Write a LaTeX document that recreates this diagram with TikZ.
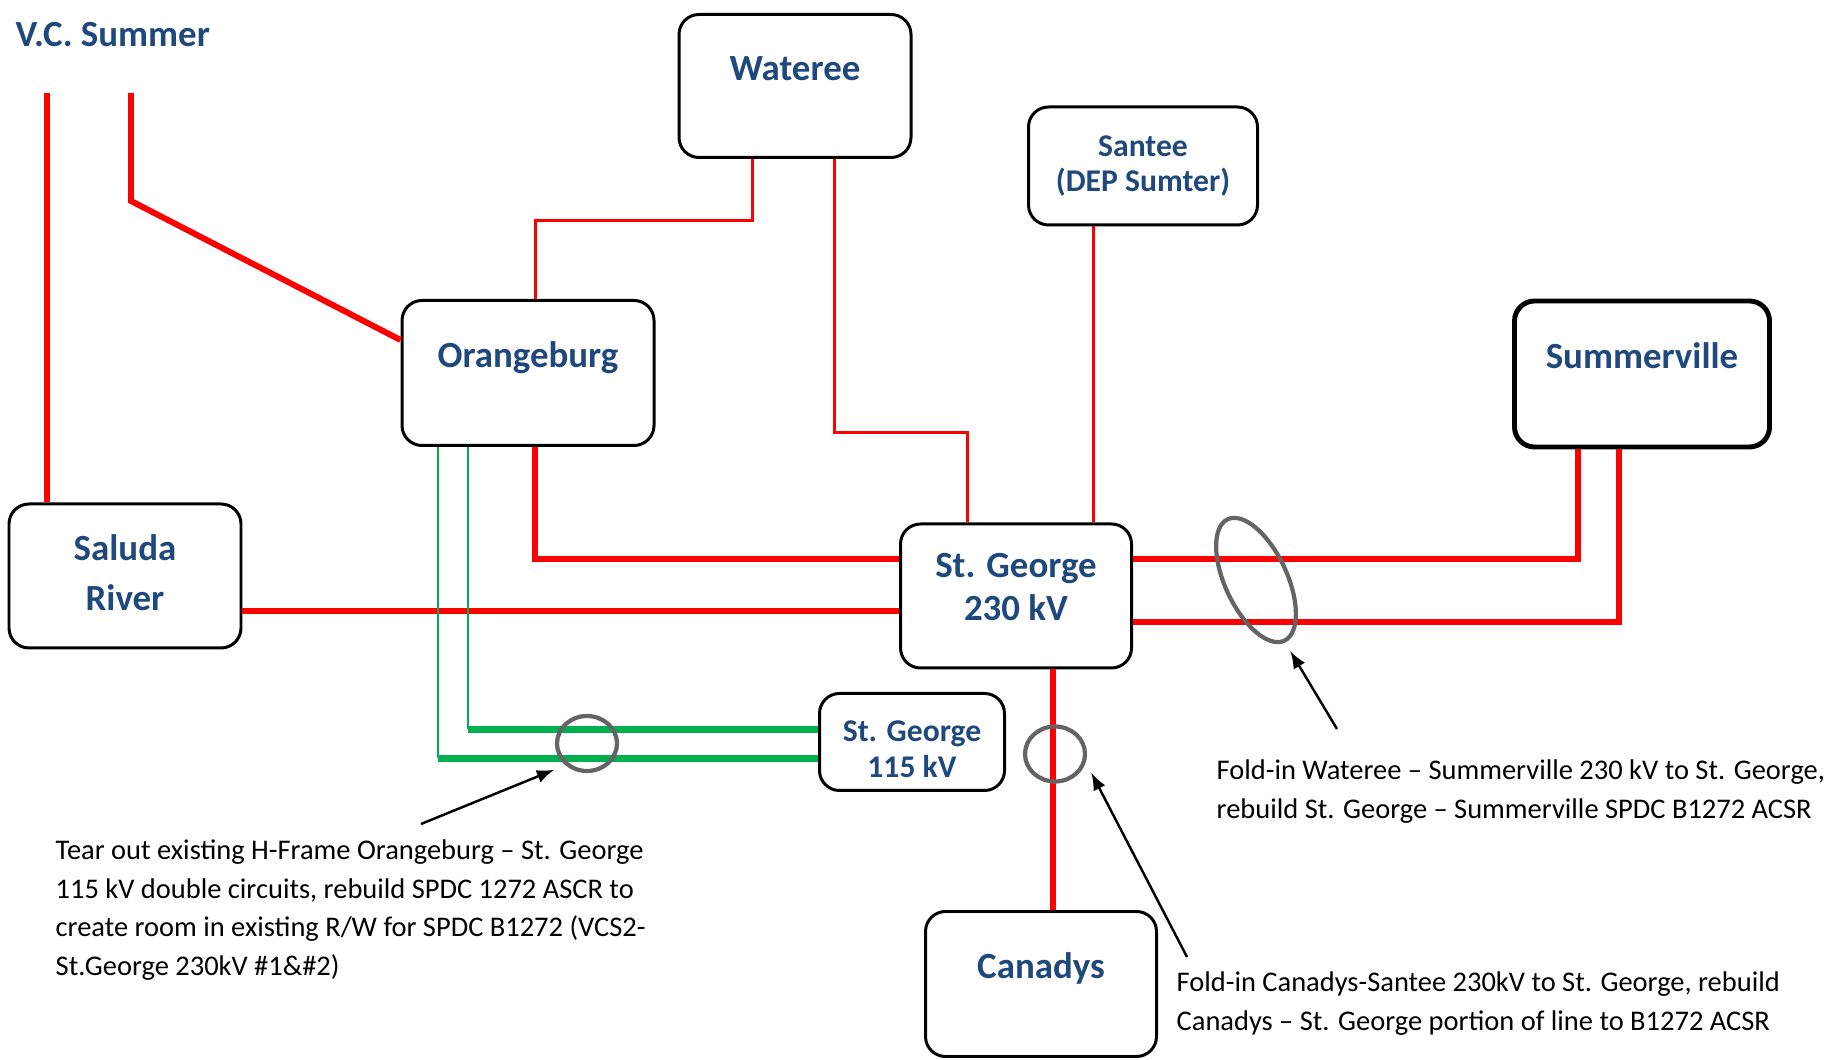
\documentclass[tikz,border=0pt]{standalone}
\usepackage{fontspec}
\setmainfont{Carlito}
\usetikzlibrary{shapes.geometric}

\definecolor{labelblue}{RGB}{31,73,125}
\definecolor{tiegreen}{RGB}{0,176,80}
\definecolor{loopgray}{RGB}{100,100,100}

\begin{document}
\begin{tikzpicture}[
	station/.style={draw, line width=0.85pt, rounded corners=2mm, align=center, text=labelblue, font=\bfseries\fontsize{10.5}{12.2}\selectfont},
	oneline/.style={text height=7.5pt, text depth=10.6pt},
	small/.style={font=\bfseries\fontsize{9}{10.2}\selectfont},
	feed/.style={red, line width=1.7pt},
	spur/.style={red, line width=0.85pt},
	tie/.style={tiegreen, line width=0.8pt},
	tiebus/.style={tiegreen, line width=1.9pt},
	loop/.style={draw=loopgray, line width=1.2pt, ellipse, inner sep=0pt},
	note/.style={font=\fontsize{8.1}{11}\selectfont, align=left, inner sep=0pt, anchor=west}
	]
	\useasboundingbox (0,0) rectangle (18.25,10.60);
	%\draw[help lines] (0,0) grid (18,10);

	\node[anchor=west, inner sep=0pt, text=labelblue, font=\bfseries\fontsize{10.5}{12.2}\selectfont] (VCSummer) at (0.15,10.25) {V.C. Summer};
	\node[station, oneline, minimum width=2.32cm, minimum height=1.43cm] (Wateree) at (7.95,9.74) {Wateree};
	\node[station, small, minimum width=2.29cm, minimum height=1.18cm] (Santee) at (11.43,8.94) {Santee\\(DEP Sumter)};
	\node[station, oneline, minimum width=2.52cm, minimum height=1.45cm] (Orangeburg) at (5.28,6.87) {Orangeburg};
	\node[station, oneline, line width=1.4pt, minimum width=2.55cm, minimum height=1.46cm] (Summerville) at (16.42,6.86) {Summerville};
	\node[station, font=\bfseries\fontsize{10.5}{14.2}\selectfont, text depth=2pt, minimum width=2.32cm, minimum height=1.44cm] (Saluda) at (1.25,4.84) {Saluda\\River};
	\node[station, text depth=5pt, minimum width=2.31cm, minimum height=1.44cm] (StGeorgeHigh) at (10.16,4.64) {St. George\\230 kV};
	\node[station, small, text height=20pt, minimum width=1.85cm, minimum height=0.97cm] (StGeorgeLow) at (9.12,3.18) {St. George\\115 kV};
	\node[station, oneline, minimum width=2.31cm, minimum height=1.45cm] (Canadys) at (10.41,0.76) {Canadys};

	% lines out of V.C. Summer
	\coordinate (VCSLeft) at (0.47,9.67);
	\coordinate (VCSRight) at (1.31,9.67);
	\draw[feed] (VCSLeft) -- (VCSLeft |- Saluda.north);
	\draw[feed] (VCSRight) -- ++(0,-1.08) -- ([yshift=3.3mm]Orangeburg.west);

	\draw[spur] ([xshift=-4.3mm]Wateree.south) -- ++(0,-0.62) -| ([xshift=0.7mm]Orangeburg.north);
	\draw[spur] ([xshift=3.9mm]Wateree.south) -- ++(0,-2.74) -| ([xshift=-4.85mm]StGeorgeHigh.north);
	\coordinate (SanteeTap) at ([xshift=-4.95mm]Santee.south);
	\draw[spur] (SanteeTap) -- (SanteeTap |- StGeorgeHigh.north);

	\draw[feed] ([xshift=0.7mm]Orangeburg.south) |- ([yshift=3.7mm]StGeorgeHigh.west);
	\coordinate (SaludaTap) at ([yshift=-1.5mm]StGeorgeHigh.west);
	\draw[feed] (SaludaTap -| Saluda.east) -- (SaludaTap);
	\draw[feed] ([yshift=3.7mm]StGeorgeHigh.east) -| ([xshift=-6.45mm]Summerville.south);
	\draw[feed] ([yshift=-2.6mm]StGeorgeHigh.east) -| ([xshift=-2.35mm]Summerville.south);
	\coordinate (CanadysTap) at ([xshift=3.65mm]StGeorgeHigh.south);
	\draw[feed] (CanadysTap) -- (CanadysTap |- Canadys.north);

	% 115 kV double circuit
	\coordinate (TieOuter) at ([xshift=-9mm]Orangeburg.south);
	\coordinate (TieInner) at ([xshift=-6mm]Orangeburg.south);
	\coordinate (BusOuter) at ([yshift=-1.65mm]StGeorgeLow.west);
	\coordinate (BusInner) at ([yshift=1.25mm]StGeorgeLow.west);
	\draw[tie] (TieOuter) -- (TieOuter |- BusOuter);
	\draw[tiebus] (TieOuter |- BusOuter) -- (BusOuter);
	\draw[tie] (TieInner) -- (TieInner |- BusInner);
	\draw[tiebus] (TieInner |- BusInner) -- (BusInner);

	\node[loop, minimum width=0.60cm, minimum height=0.55cm] (TieLoop) at (5.87,3.165) {};
	\node[loop, minimum width=0.60cm, minimum height=0.55cm] (CanadysLoop) at (10.55,3.06) {};
	\node[loop, rotate=-65, minimum width=1.34cm, minimum height=0.62cm] (FoldLoop) at (12.56,4.80) {};

	\node[note] (TearNote) at (0.55,1.50) {Tear out existing H-Frame Orangeburg – St. George\\115 kV double circuits, rebuild SPDC 1272 ASCR to\\create room in existing R/W for SPDC B1272 (VCS2-\\St.George 230kV \#1\&\#2)};
	\node[note] (FoldNote) at (12.16,2.685) {Fold-in Wateree – Summerville 230 kV to St. George,\\rebuild St. George – Summerville SPDC B1272 ACSR};
	\node[note] (CanadysNote) at (11.76,0.565) {Fold-in Canadys-Santee 230kV to St. George, rebuild\\Canadys – St. George portion of line to B1272 ACSR};

	\coordinate (TearTail) at (4.21,2.36);
	\coordinate (CanadysTail) at (11.87,1.03);
	\coordinate (FoldTail) at (13.37,3.31);
	\draw[->,>=latex, line width=0.7pt, shorten >=1.2mm] (TearTail) -- (TieLoop.225);
	\draw[->,>=latex, line width=0.7pt, shorten >=1.2mm] (CanadysTail) -- (CanadysLoop.-15);
	\draw[->,>=latex, line width=0.7pt, shorten >=1mm] (FoldTail) -- (FoldLoop.east);

\end{tikzpicture}
\end{document}
